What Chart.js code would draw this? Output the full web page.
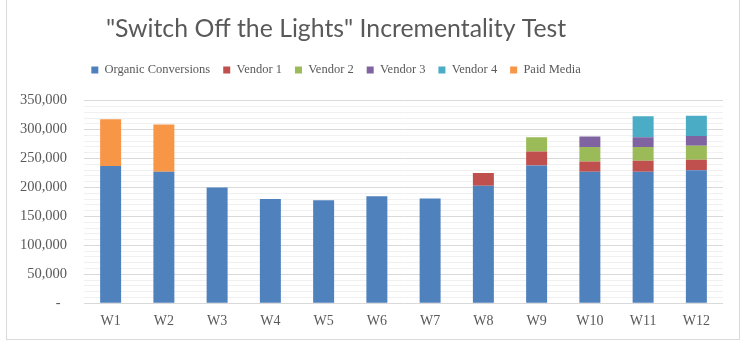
<!DOCTYPE html>
<html>
<head>
<meta charset="utf-8">
<script src="https://cdn.jsdelivr.net/npm/chart.js@4"></script>
<style>
  html, body { margin: 0; padding: 0; background: #ffffff; overflow: hidden; }
  body { width: 742px; height: 342px; position: relative; }
  #wrap { position: absolute; left: -51px; top: 0; width: 793px; height: 342px; }
  #frame { position: absolute; left: 6px; top: -2px; width: 732px; height: 340px; border: 1px solid #d9d9d9; pointer-events: none; }
</style>
</head>
<body>
<div id="wrap"><canvas id="c" width="793" height="342"></canvas></div>
<div id="frame"></div>
<script>
const weeks = ['W1','W2','W3','W4','W5','W6','W7','W8','W9','W10','W11','W12'];
const organic = [237000, 227000, 200000, 180000, 178000, 185000, 181000, 203000, 238000, 227000, 227000, 230000];
const vendor1 = [null, null, null, null, null, null, null, 22000, 24000, 18000, 19000, 18000];
const vendor2 = [null, null, null, null, null, null, null, null, 25000, 25000, 24000, 24000];
const vendor3 = [null, null, null, null, null, null, null, null, null, 18000, 17000, 17000];
const vendor4 = [null, null, null, null, null, null, null, null, null, null, 36000, 35000];
const paidMedia = [81000, 82000, null, null, null, null, null, null, null, null, null, null];
const seriesNames = ['Organic Conversions', 'Vendor 1', 'Vendor 2', 'Vendor 3', 'Vendor 4', 'Paid Media'];
const titleText = '"Switch Off the Lights" Incrementality Test';

const colors = ['#4f81bd', '#c0504d', '#9bbb59', '#8064a2', '#4bacc6', '#f79646'];
const seriesData = [organic, vendor1, vendor2, vendor3, vendor4, paidMedia];

const legendExtra = {
  id: 'legendExtra',
  afterInit(chart) {
    const lg = chart.legend;
    if (!lg) return;
    const f = lg.fit.bind(lg);
    lg.fit = function () { f(); this.height += 14.4; };
  }
};

new Chart(document.getElementById('c'), {
  type: 'bar',
  data: {
    labels: weeks,
    datasets: seriesData.map((d, i) => ({
      label: seriesNames[i],
      data: d,
      backgroundColor: colors[i],
      borderWidth: 0,
      barPercentage: 0.394,
      categoryPercentage: 1.0
    }))
  },
  options: {
    responsive: false,
    animation: false,
    events: [],
    layout: { padding: { left: 0, right: 19, top: 0, bottom: 0 } },
    plugins: {
      title: {
        display: true,
        text: titleText,
        color: '#595959',
        font: { family: 'Lato', size: 24.8, weight: 'normal', lineHeight: 1.2 },
        padding: { top: 13.9, bottom: 7.1 }
      },
      legend: {
        display: true,
        position: 'top',
        labels: {
          boxWidth: 7,
          boxHeight: 7,
          padding: 13,
          color: '#595959',
          font: { family: 'Liberation Serif', size: 12.5 }
        }
      },
      tooltip: { enabled: false }
    },
    scales: {
      x: {
        stacked: true,
        grid: { display: false, drawTicks: false },
        border: { display: false },
        ticks: {
          color: '#595959',
          padding: 10,
          font: { family: 'Liberation Serif', size: 14 }
        },
        afterFit(s) { s.height = 38.7; }
      },
      y: {
        stacked: true,
        min: 0,
        max: 350000,
        border: { display: false },
        grid: {
          drawTicks: false,
          color(ctx) {
            const v = ctx.tick ? ctx.tick.value : 0;
            return v % 50000 === 0 ? '#d9d9d9' : '#f0f0f0';
          },
          lineWidth: 1
        },
        ticks: {
          stepSize: 10000,
          autoSkip: false,
          padding: 17,
          color: '#595959',
          font: { family: 'Liberation Serif', size: 14.5 },
          callback(v) {
            if (v % 50000 !== 0) return '';
            if (v === 0) return '-\u00a0\u2009';
            return v.toLocaleString('en-US');
          }
        },
        afterFit(s) { s.width = 135; }
      }
    }
  },
  plugins: [legendExtra]
});
</script>
</body>
</html>
